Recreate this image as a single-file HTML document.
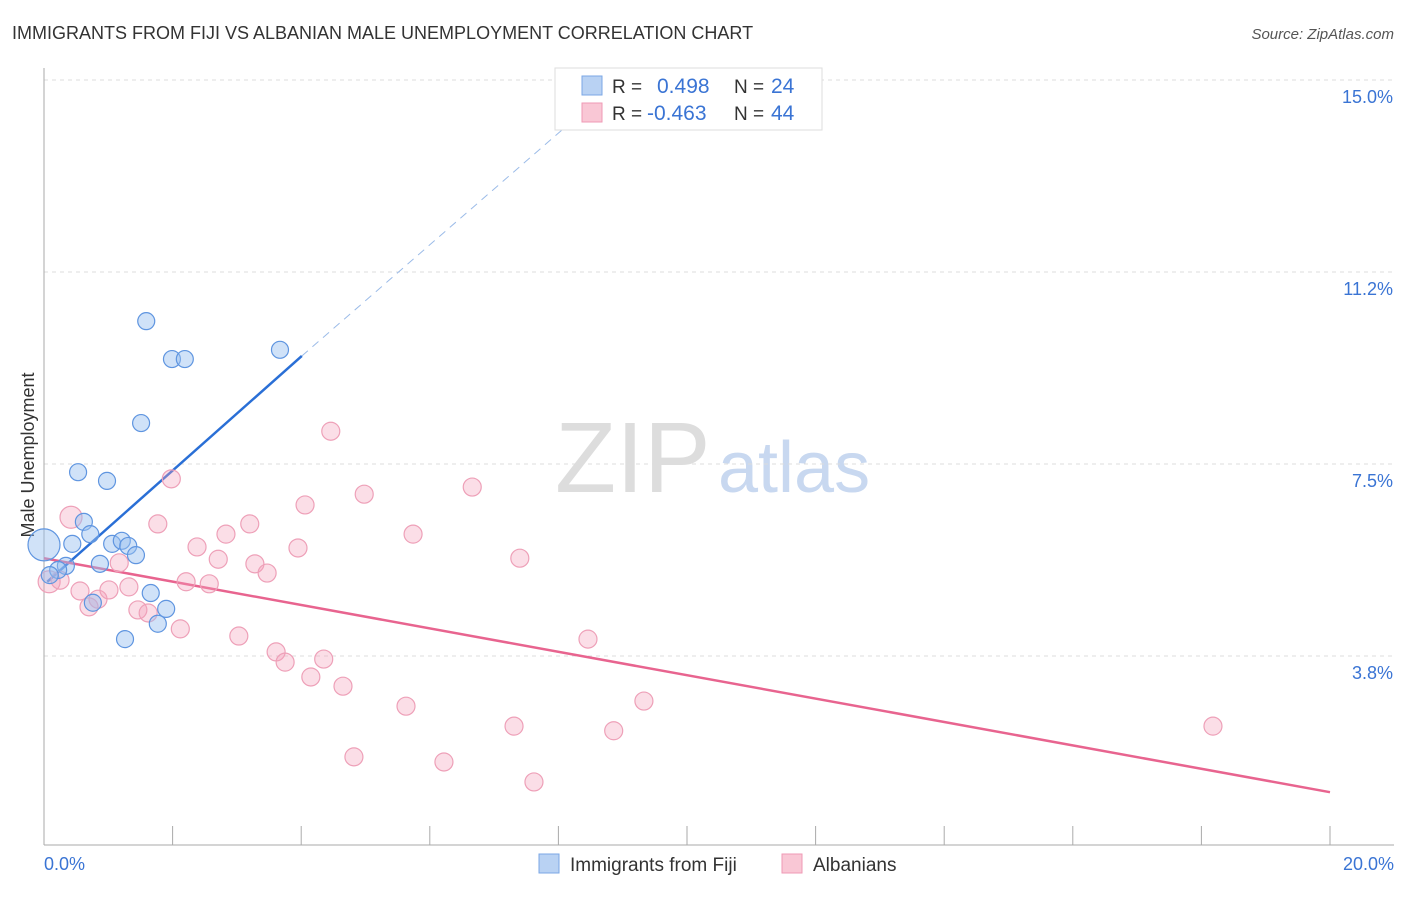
<!DOCTYPE html>
<html><head><meta charset="utf-8"><style>
body{margin:0;background:#fff;font-family:"Liberation Sans",sans-serif}
svg text{font-family:"Liberation Sans",sans-serif}
</style></head><body>
<svg width="1406" height="892" id="chart">
<text x="12" y="39" font-size="18" fill="#333">IMMIGRANTS FROM FIJI VS ALBANIAN MALE UNEMPLOYMENT CORRELATION CHART</text>
<text x="1394" y="39" font-size="15" fill="#555" text-anchor="end" font-style="italic">Source: ZipAtlas.com</text>
<text x="34" y="455" font-size="18" fill="#333" transform="rotate(-90 34 455)" text-anchor="middle">Male Unemployment</text>
<text x="555" y="492" font-size="100" fill="#ddd" font-family="Liberation Serif">ZIP</text>
<text x="718" y="492" font-size="72" fill="#c8d8f0">atlas</text>
<g id="grid"></g><g id="axes"></g><g id="lines"></g><g id="pts"></g>
<g>
<rect x="555" y="68" width="267" height="62" fill="#fff" stroke="#ddd"/>
<rect x="582" y="76" width="20" height="19" fill="#b9d2f3" stroke="#7ba7e6"/>
<rect x="582" y="103" width="20" height="19" fill="#f9c7d5" stroke="#ef9ab5"/>
<text x="612" y="93" font-size="19" fill="#333">R = </text><text x="657" y="93" font-size="21" fill="#3a74d4">0.498</text>
<text x="734" y="93" font-size="19" fill="#333">N = </text><text x="771" y="93" font-size="21" fill="#3a74d4">24</text>
<text x="612" y="120" font-size="19" fill="#333">R = </text><text x="647" y="120" font-size="21" fill="#3a74d4">-0.463</text>
<text x="734" y="120" font-size="19" fill="#333">N = </text><text x="771" y="120" font-size="21" fill="#3a74d4">44</text>
</g>
<g>
<rect x="539" y="854" width="20" height="19" fill="#b9d2f3" stroke="#7ba7e6"/>
<text x="570" y="871" font-size="19" fill="#333">Immigrants from Fiji</text>
<rect x="782" y="854" width="20" height="19" fill="#f9c7d5" stroke="#ef9ab5"/>
<text x="813" y="871" font-size="19" fill="#333">Albanians</text>
</g>
</svg>
<script>
const yTicks=[15.0,11.25,7.5,3.75];
const yTickLabels=["15.0%","11.2%","7.5%","3.8%"];
const xTickLabels=["0.0%","20.0%"];
const fijiX=[1.59,1.99,2.19,3.67,1.51,0.53,0.98,0.62,0.72,0.44,0.0,1.06,1.21,1.31,1.43,0.87,0.34,0.22,1.66,1.90,0.76,1.77,1.26,0.09];
const fijiY=[10.29,9.55,9.55,9.73,8.30,7.34,7.17,6.37,6.13,5.94,5.92,5.94,6.00,5.90,5.72,5.55,5.51,5.43,4.98,4.67,4.79,4.38,4.08,5.33];
const albX=[0.42,0.08,0.25,0.56,0.70,0.84,1.01,1.17,1.32,1.46,1.62,1.77,1.98,2.12,2.21,2.38,2.57,2.71,2.83,3.03,3.20,3.28,3.47,3.61,3.75,3.95,4.06,4.15,4.35,4.46,4.65,4.82,4.98,5.63,5.74,6.22,6.66,7.31,7.40,7.62,8.46,8.86,9.33,18.18];
const albY=[6.46,5.20,5.23,5.02,4.71,4.86,5.04,5.57,5.10,4.65,4.59,6.33,7.21,4.28,5.20,5.88,5.16,5.64,6.13,4.14,6.33,5.55,5.37,3.83,3.63,5.86,6.70,3.34,3.69,8.14,3.16,1.78,6.91,2.77,6.13,1.68,7.05,2.38,5.66,1.29,4.08,2.29,2.87,2.38];
const fijiTrend=[0.05,5.20,4.01,9.61,8.41,14.41];
const albTrend=[0,5.66,20,1.09];
const NS="http://www.w3.org/2000/svg";
const X=v=>44+v*64.3, Y=v=>848-v*51.2;
function mk(p,t,a){const e=document.createElementNS(NS,t);for(const k in a)e.setAttribute(k,a[k]);document.getElementById(p).appendChild(e);return e;}
yTicks.forEach((t,i)=>{
 const g=mk('grid','line',{x1:44,x2:1394,y1:Y(t),y2:Y(t),stroke:'#ddd','stroke-dasharray':'4,4'});
 
 
 const l=mk('axes','text',{x:1393,y:Y(t)+23,'font-size':18,fill:'#3a74d4','text-anchor':'end'});l.textContent=yTickLabels[i];
 
 
});
mk('axes','line',{x1:44,x2:44,y1:68,y2:845,stroke:'#aaa'});
mk('axes','line',{x1:44,x2:1394,y1:845,y2:845,stroke:'#aaa'});
for(let i=0;i<=10;i++){mk('axes','line',{x1:X(i*2),x2:X(i*2),y1:826,y2:845,stroke:'#aaa'});}
[[0,44,'start'],[1,1394,'end']].forEach(([i,x,a])=>{const t=mk('axes','text',{x:x,y:870,'font-size':18,fill:'#3a74d4','text-anchor':a});t.textContent=xTickLabels[i];
 
 });
albX.forEach((x,i)=>{const c=mk('pts','circle',{cx:X(x),cy:Y(albY[i]),r:(i<2?11:9),fill:'rgba(244,160,185,0.35)',stroke:'#eea0b8','stroke-width':1.2});
 
 });
fijiX.forEach((x,i)=>{const c=mk('pts','circle',{cx:X(x),cy:Y(fijiY[i]),r:(x===0?16:8.5),fill:'rgba(150,190,240,0.45)',stroke:'#5f95e0','stroke-width':1.2});
 
 });
const b1=mk('lines','line',{x1:X(fijiTrend[0]),y1:Y(fijiTrend[1]),x2:X(fijiTrend[2]),y2:Y(fijiTrend[3]),stroke:'#2a6fd6','stroke-width':2.5});


const b2=mk('lines','line',{x1:X(fijiTrend[2]),y1:Y(fijiTrend[3]),x2:X(fijiTrend[4]),y2:Y(fijiTrend[5]),stroke:'#9bbbe8','stroke-width':1,'stroke-dasharray':'8,6'});


const p1=mk('lines','line',{x1:X(albTrend[0]),y1:Y(albTrend[1]),x2:X(albTrend[2]),y2:Y(albTrend[3]),stroke:'#e8648f','stroke-width':2.5});


</script>
</body></html>
